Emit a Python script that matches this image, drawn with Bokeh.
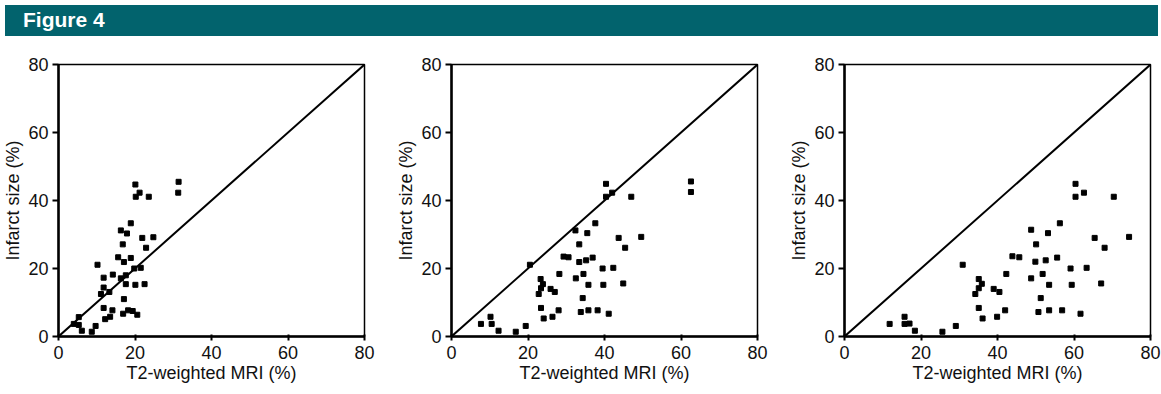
from bokeh.plotting import figure
from bokeh.models import Range1d, Div, FixedTicker
from bokeh.layouts import column, row
from bokeh.embed import file_html
from bokeh.resources import INLINE

title_text = "Figure 4"
x_label = "T2-weighted MRI (%)"
y_label = "Infarct size (%)"
ticks = [0, 20, 40, 60, 80]
identity = [0, 80]

p1_x = [20.1, 20.2, 21.2, 23.6, 31.4, 31.3, 18.9, 16.3, 17.9, 21.9, 24.8, 16.8, 22.9, 15.6, 17.1,
        18.9, 10.2, 19.8, 21.5, 11.8, 14.2, 17.6, 16.3, 11.8, 11.1, 13.3, 17.6, 20.1, 22.5, 17.1,
        11.8, 14.1, 13.5, 12.2, 16.9, 18.2, 19.4, 20.6, 5.3, 4.0, 5.3, 6.1, 8.7, 9.7]
p1_y = [44.7, 41.1, 42.3, 41.1, 45.5, 42.3, 33.3, 31.2, 30.3, 29.0, 29.2, 27.1, 26.1, 23.3, 21.9,
        23.1, 21.1, 20.0, 20.2, 17.3, 18.2, 18.0, 17.1, 14.4, 12.5, 13.1, 15.4, 15.2, 15.4, 11.0,
        8.4, 7.7, 5.8, 5.1, 6.7, 7.7, 7.5, 6.4, 5.7, 3.7, 3.4, 1.7, 1.4, 3.1]

p2_x = [40.4, 40.4, 42.0, 47.0, 62.6, 62.6, 37.6, 32.4, 35.5, 43.7, 49.6, 33.4, 45.4, 29.3, 30.6,
        33.4, 35.2, 36.9, 20.5, 39.5, 42.3, 23.3, 23.9, 23.4, 22.8, 28.2, 25.9, 27.0, 32.5, 34.5,
        35.8, 39.7, 44.9, 34.3, 23.4, 24.1, 26.4, 28.0, 33.8, 35.8, 38.2, 41.1, 10.2, 7.7, 10.5,
        12.3, 16.8, 19.4]
p2_y = [44.9, 41.1, 42.3, 41.1, 45.6, 42.5, 33.3, 31.2, 30.4, 29.0, 29.3, 27.1, 26.1, 23.5, 23.3,
        21.9, 22.4, 23.2, 21.1, 20.0, 20.2, 16.9, 15.4, 14.2, 12.5, 18.4, 14.0, 13.1, 17.1, 18.4,
        15.2, 15.2, 15.6, 11.3, 8.4, 5.3, 5.8, 7.7, 7.2, 7.7, 7.7, 6.7, 5.8, 3.7, 3.7,
        1.7, 1.4, 3.1]

p3_x = [60.4, 60.4, 62.6, 70.4, 56.3, 48.8, 53.2, 65.4, 74.4, 50.1, 68.0, 43.9, 45.7, 49.9, 52.6,
        55.6, 30.9, 59.1, 63.3, 35.1, 35.9, 35.1, 34.2, 42.3, 39.0, 40.5, 48.8, 51.8, 53.5, 59.4,
        67.1, 51.3, 35.1, 36.1, 39.9, 42.0, 50.7, 53.5, 56.9, 61.7, 15.7, 11.8, 15.7, 17.0, 18.4,
        25.6, 29.1]
p3_y = [44.9, 41.1, 42.3, 41.1, 33.3, 31.4, 30.4, 29.0, 29.3, 27.1, 26.1, 23.6, 23.3, 22.0, 22.4,
        23.2, 21.1, 20.0, 20.2, 16.9, 15.5, 14.2, 12.5, 18.4, 14.0, 13.1, 17.1, 18.4, 15.2, 15.2,
        15.6, 11.3, 8.4, 5.3, 5.8, 7.7, 7.2, 7.7, 7.7, 6.7, 5.8, 3.7, 3.7, 3.8, 1.7,
        1.4, 3.1]

FONT = "Liberation Sans"


def make_panel(xs, ys, border_right):
    p = figure(frame_width=306, frame_height=272, x_range=Range1d(0, 80), y_range=Range1d(0, 80),
               output_backend="svg", toolbar_location=None,
               min_border_left=55, min_border_right=border_right,
               min_border_top=23, min_border_bottom=52,
               background_fill_color="white", border_fill_color="white",
               outline_line_color="black", outline_line_width=1.5)
    p.xgrid.visible = False
    p.ygrid.visible = False
    p.line(identity, identity, line_color="black", line_width=2)
    p.scatter(xs, ys, marker="square", size=5, color="black")
    for ax in (p.xaxis[0], p.yaxis[0]):
        ax.ticker = FixedTicker(ticks=ticks)
        ax.axis_line_width = 2.5
        ax.axis_line_color = "black"
        ax.major_tick_line_width = 2
        ax.major_tick_line_color = "black"
        ax.minor_tick_line_color = None
        ax.major_label_text_font = FONT
        ax.major_label_text_font_size = "18px"
        ax.major_label_text_color = "#111111"
        ax.axis_label_text_font = FONT
        ax.axis_label_text_font_size = "18px"
        ax.axis_label_text_font_style = "normal"
        ax.axis_label_text_color = "#111111"
    p.xaxis.axis_label = x_label
    p.yaxis.axis_label = y_label
    p.xaxis.major_tick_out = 4
    p.xaxis.major_tick_in = 2
    p.yaxis.major_tick_out = 6
    p.yaxis.major_tick_in = 0
    p.xaxis.major_label_standoff = 5
    p.yaxis.major_label_standoff = 4
    p.xaxis.axis_label_standoff = 1
    p.yaxis.axis_label_standoff = 2
    return p


header = Div(
    text=('<div style="width:1153px;height:31px;background:#02636d;color:#ffffff;'
          'font-family:\'Liberation Sans\', Arial, sans-serif;font-weight:bold;font-size:21px;'
          'line-height:29px;padding-left:18px;box-sizing:border-box;">' + title_text + '</div>'),
    width=1153, height=31)

f1 = make_panel(p1_x, p1_y, 29)
f2 = make_panel(p2_x, p2_y, 29)
f3 = make_panel(p3_x, p3_y, 12)

layout = column(header, row(f1, f2, f3))

open("out.html", "w").write(file_html(layout, INLINE))
